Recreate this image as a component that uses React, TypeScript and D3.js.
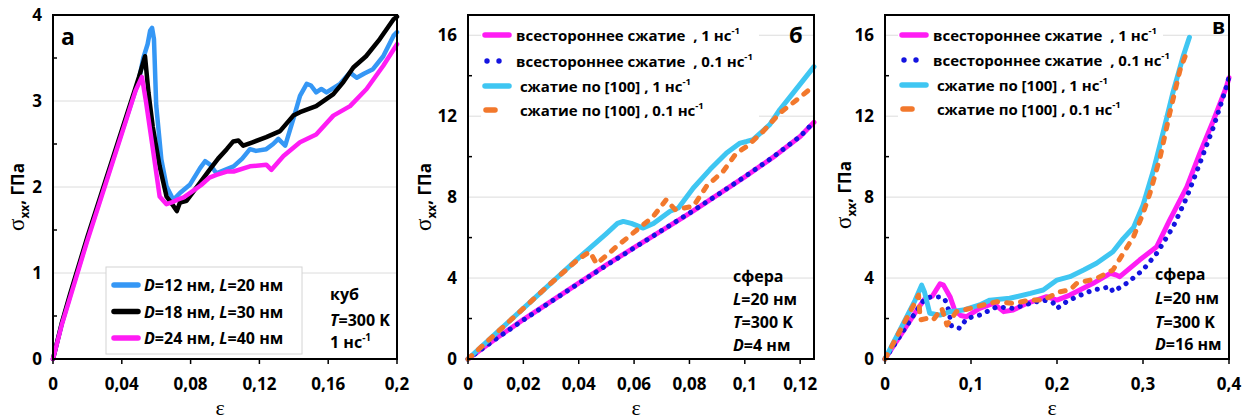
import React from 'react';
import * as d3 from 'd3';

type Pt = [number, number];

// ---------- Panel а: cube, T = 300 K, 1 нс⁻¹ ----------
const cubeD12: Pt[] = [
  [0, 0], [0.005, 0.4], [0.01, 0.74], [0.02, 1.4], [0.03, 2.02], [0.04, 2.64], [0.05, 3.25],
  [0.0525, 3.5], [0.055, 3.66], [0.0565, 3.82], [0.0576, 3.85], [0.0587, 3.72], [0.06, 2.95],
  [0.063, 2.32], [0.066, 2.01], [0.07, 1.85], [0.0738, 1.93], [0.0797, 2.03], [0.0855, 2.22],
  [0.0884, 2.3], [0.0913, 2.26], [0.095, 2.16], [0.1, 2.2], [0.105, 2.24], [0.11, 2.33],
  [0.1145, 2.44], [0.118, 2.42], [0.124, 2.44], [0.128, 2.5], [0.131, 2.56], [0.135, 2.48],
  [0.1397, 2.79], [0.1436, 3.06], [0.1475, 3.2], [0.15, 3.18], [0.153, 3.1], [0.156, 3.14],
  [0.159, 3.1], [0.1669, 3.2], [0.1727, 3.33], [0.1766, 3.27], [0.181, 3.32], [0.186, 3.37],
  [0.192, 3.52], [0.198, 3.76], [0.2, 3.8],
];
const cubeD18: Pt[] = [
  [0, 0], [0.005, 0.41], [0.01, 0.76], [0.02, 1.42], [0.03, 2.04], [0.04, 2.66], [0.05, 3.28],
  [0.0535, 3.52], [0.0555, 3.1], [0.058, 2.7], [0.062, 2.24], [0.066, 1.89], [0.07, 1.78],
  [0.072, 1.72], [0.0738, 1.82], [0.0777, 1.84], [0.0855, 2.05], [0.091, 2.2], [0.096, 2.33],
  [0.101, 2.44], [0.1048, 2.53], [0.1078, 2.54], [0.1106, 2.48], [0.116, 2.52], [0.124, 2.58],
  [0.132, 2.65], [0.1397, 2.83], [0.1436, 2.87], [0.153, 2.94], [0.163, 3.08], [0.1688, 3.22],
  [0.1746, 3.39], [0.182, 3.52], [0.19, 3.72], [0.198, 3.95], [0.2, 3.98],
];
const cubeD24: Pt[] = [
  [0, 0], [0.005, 0.39], [0.01, 0.72], [0.02, 1.38], [0.03, 2.0], [0.04, 2.62], [0.048, 3.12],
  [0.0517, 3.28], [0.054, 3.0], [0.058, 2.45], [0.062, 1.89], [0.066, 1.8], [0.069, 1.82],
  [0.072, 1.85], [0.076, 1.88], [0.081, 1.95], [0.086, 2.02], [0.091, 2.11], [0.095, 2.14],
  [0.101, 2.18], [0.105, 2.18], [0.1145, 2.24], [0.124, 2.26], [0.127, 2.2], [0.134, 2.36],
  [0.1436, 2.52], [0.153, 2.61], [0.163, 2.83], [0.1727, 2.94], [0.1823, 3.14], [0.192, 3.41],
  [0.2, 3.66],
];
const cubeXTicks = [0, 0.04, 0.08, 0.12, 0.16, 0.2];
const cubeXLabels = ['0', '0,04', '0,08', '0,12', '0,16', '0,2'];
const cubeYTicks = [0, 1, 2, 3, 4];
const cubeYMinor = [0.5, 1.5, 2.5, 3.5];

// ---------- Panel б: sphere, D = 4 нм ----------
const sph4IsoFast: Pt[] = [
  [0, 0], [0.01, 1.0], [0.02, 1.95], [0.03, 2.85], [0.04, 3.75], [0.05, 4.65], [0.06, 5.5],
  [0.07, 6.35], [0.08, 7.2], [0.09, 8.1], [0.1, 9.0], [0.11, 9.95], [0.12, 11.0], [0.125, 11.7],
];
const sph4IsoSlow: Pt[] = [
  [0, 0], [0.01, 0.98], [0.02, 1.93], [0.03, 2.84], [0.04, 3.74], [0.05, 4.63], [0.06, 5.49],
  [0.07, 6.35], [0.08, 7.21], [0.09, 8.1], [0.1, 9.01], [0.11, 9.96], [0.12, 11.0], [0.125, 11.72],
];
const sph4UniFast: Pt[] = [
  [0, 0], [0.01, 1.25], [0.02, 2.5], [0.03, 3.75], [0.04, 5.0], [0.05, 6.2], [0.054, 6.7],
  [0.0561, 6.8], [0.059, 6.7], [0.0633, 6.47], [0.067, 6.7], [0.073, 7.3], [0.076, 7.46],
  [0.0814, 8.45], [0.0874, 9.36], [0.0934, 10.18], [0.0983, 10.67], [0.1007, 10.75],
  [0.103, 10.84], [0.109, 11.58], [0.1127, 12.33], [0.1175, 13.15], [0.125, 14.45],
];
const sph4UniSlow: Pt[] = [
  [0, 0], [0.01, 1.25], [0.02, 2.5], [0.03, 3.75], [0.04, 4.95], [0.044, 5.3], [0.0465, 4.7],
  [0.0537, 5.56], [0.0597, 6.23], [0.0669, 7.04], [0.0716, 7.87], [0.0748, 7.38], [0.0814, 7.55],
  [0.0862, 8.54], [0.0922, 9.28], [0.097, 10.18], [0.1007, 10.5], [0.1067, 11.26],
  [0.1127, 12.16], [0.1187, 12.8], [0.125, 13.5],
];
const sph4XTicks = [0, 0.02, 0.04, 0.06, 0.08, 0.1, 0.12];
const sph4XLabels = ['0', '0,02', '0,04', '0,06', '0,08', '0,1', '0,12'];

// ---------- Panel в: sphere, D = 16 нм ----------
const sph16IsoFast: Pt[] = [
  [0, 0], [0.02, 1.3], [0.04, 2.6], [0.046, 2.95], [0.055, 3.1], [0.06, 3.45], [0.064, 3.72],
  [0.068, 3.65], [0.0756, 3.08], [0.081, 2.42], [0.088, 2.15], [0.095, 2.09], [0.11, 2.5],
  [0.126, 2.75], [0.138, 2.34], [0.149, 2.42], [0.165, 2.75], [0.188, 3.08], [0.2, 2.91],
  [0.215, 3.16], [0.242, 3.74], [0.262, 4.23], [0.269, 4.15], [0.273, 4.07], [0.296, 4.89],
  [0.316, 5.55], [0.331, 6.86], [0.351, 8.51], [0.366, 10.16], [0.382, 11.8], [0.397, 13.45],
  [0.4, 13.9],
];
const sph16IsoSlow: Pt[] = [
  [0, 0], [0.02, 1.3], [0.04, 2.6], [0.046, 2.95], [0.05, 3.05], [0.066, 3.07], [0.07, 2.9],
  [0.074, 2.42], [0.0775, 1.6], [0.087, 1.52], [0.095, 2.0], [0.11, 2.17], [0.13, 2.58],
  [0.149, 2.5], [0.169, 2.75], [0.184, 2.91], [0.195, 2.8], [0.2, 2.5], [0.211, 2.83],
  [0.223, 3.08], [0.242, 3.41], [0.262, 3.57], [0.265, 3.32], [0.281, 3.74], [0.3, 4.4],
  [0.316, 5.22], [0.335, 6.53], [0.351, 8.0], [0.366, 9.66], [0.382, 11.47], [0.397, 13.45],
  [0.4, 13.94],
];
const sph16UniFast: Pt[] = [
  [0, 0], [0.02, 1.65], [0.035, 2.9], [0.0426, 3.65], [0.046, 3.3], [0.052, 2.26], [0.064, 2.17],
  [0.0756, 2.34], [0.091, 2.42], [0.11, 2.67], [0.122, 2.91], [0.145, 3.0], [0.169, 3.24],
  [0.184, 3.41], [0.2, 3.9], [0.215, 4.07], [0.231, 4.4], [0.246, 4.73], [0.265, 5.3],
  [0.277, 5.95], [0.289, 6.5], [0.3, 7.6], [0.312, 9.3], [0.324, 11.3], [0.335, 13.2],
  [0.347, 15.0], [0.354, 15.9],
];
const sph16UniSlow: Pt[] = [
  [0, 0], [0.02, 1.6], [0.035, 2.8], [0.039, 3.16], [0.041, 1.93], [0.048, 2.0], [0.056, 1.93],
  [0.066, 2.5], [0.072, 1.68], [0.083, 2.34], [0.099, 2.5], [0.114, 2.67], [0.13, 2.83],
  [0.149, 2.75], [0.169, 2.91], [0.184, 2.91], [0.203, 3.32], [0.215, 3.41], [0.223, 3.74],
  [0.246, 3.98], [0.265, 4.4], [0.277, 5.22], [0.289, 6.04], [0.3, 7.19], [0.308, 8.18],
  [0.32, 9.99], [0.331, 12.13], [0.343, 14.27], [0.352, 15.3],
];
const sph16XTicks = [0, 0.1, 0.2, 0.3, 0.4];
const sph16XLabels = ['0', '0,1', '0,2', '0,3', '0,4'];

const sphYTicks = [0, 4, 8, 12, 16];
const sphYMinor = [2, 6, 10, 14];

// ---------- styles ----------
const SANS = "'Open Sans', 'DejaVu Sans', sans-serif";
const SERIF = "'Liberation Serif', 'DejaVu Serif', serif";

const C_BLUE = '#3597f5';
const C_BLACK = '#000000';
const C_MAGENTA = '#ff1cf4';
const C_DOTS = '#1414e0';
const C_CYAN = '#3fc6f2';
const C_ORANGE = '#f2782c';

type Kind = 'solid' | 'dots' | 'dash';
interface Series { data: Pt[]; color: string; kind: Kind; width: number }
interface LegendItem { kind: Kind; color: string; label: string }

function dashFor(kind: Kind) {
  if (kind === 'dots') return '0.1 8.5';
  if (kind === 'dash') return '5 9';
  return undefined;
}

function Rich({ text, x, y, size }: { text: string; x: number; y: number; size: number }) {
  // Variable letters (D, L, T) before "=" are set in italic.
  const parts = text.split(/(\b[DLT](?==))/);
  return (
    <text x={x} y={y} fontFamily={SANS} fontWeight={700} fontSize={size} style={{ whiteSpace: 'pre' }}>
      {parts.map((p, i) =>
        /^[DLT]$/.test(p) ? <tspan key={i} fontStyle="italic">{p}</tspan> : <tspan key={i}>{p}</tspan>
      )}
    </text>
  );
}

interface PanelCfg {
  left: number; right: number; top: number; bottom: number;
  xDomain: [number, number]; yDomain: [number, number];
  xTicks: number[]; xLabels: string[];
  yTicks: number[]; yMinor: number[]; gridTicks: number[];
  series: Series[];
  yLabelX: number; yLabelY: number;
  tag: string; tagX: number; tagY: number; tagSize: number;
  notes: string[]; notesX: number; notesY: number[];
}

function Panel({ c }: { c: PanelCfg }) {
  const x = d3.scaleLinear().domain(c.xDomain).range([c.left, c.right]);
  const y = d3.scaleLinear().domain(c.yDomain).range([c.bottom, c.top]);
  const line = d3.line<Pt>().x(d => x(d[0])).y(d => y(d[1]));
  return (
    <g>
      {c.gridTicks.map(t => (
        <line key={'g' + t} x1={c.left} x2={c.right} y1={y(t)} y2={y(t)} stroke="#dcdcdc" strokeWidth={1} />
      ))}
      {c.series.map((s, i) => (
        <path key={i} d={line(s.data) || ''} fill="none" stroke={s.color} strokeWidth={s.width}
          strokeDasharray={dashFor(s.kind)} strokeLinecap="round" strokeLinejoin="round" />
      ))}
      <rect x={c.left} y={c.top} width={c.right - c.left} height={c.bottom - c.top}
        fill="none" stroke="#000" strokeWidth={2} />
      {c.yMinor.map(t => (
        <line key={'m' + t} x1={c.left} x2={c.left + 4} y1={y(t)} y2={y(t)} stroke="#000" strokeWidth={1.5} />
      ))}
      {c.xTicks.map(t => (
        <line key={'xt' + t} x1={x(t)} x2={x(t)} y1={c.bottom} y2={c.bottom + 5} stroke="#000" strokeWidth={1.5} />
      ))}
      {c.xTicks.map((t, i) => (
        <text key={'xl' + t} x={x(t)} y={390} textAnchor="middle" fontFamily={SANS} fontWeight={700} fontSize={17}>
          {c.xLabels[i]}
        </text>
      ))}
      {c.yTicks.map(t => (
        <text key={'yl' + t} x={c.left - 11} y={y(t) + 6} textAnchor="end" fontFamily={SANS} fontWeight={700} fontSize={17}>
          {String(t)}
        </text>
      ))}
      <text x={(c.left + c.right) / 2 - 5} y={415} textAnchor="middle" fontFamily={SERIF} fontSize={22}>ε</text>
      <text transform={`translate(${c.yLabelX},${c.yLabelY}) rotate(-90)`} textAnchor="middle">
        <tspan fontFamily={SERIF} fontSize={23}>σ</tspan>
        <tspan fontFamily={SANS} fontSize={12} fontWeight={700} dy={5}>xx</tspan>
        <tspan fontFamily={SANS} fontSize={17} fontWeight={700} dy={-5}>, ГПа</tspan>
      </text>
      <text x={c.tagX} y={c.tagY} fontFamily={SANS} fontWeight={700} fontSize={c.tagSize}>{c.tag}</text>
      {c.notes.map((n, i) => {
        if (n.endsWith('нс')) {
          return (
            <text key={'n' + i} x={c.notesX} y={c.notesY[i]} fontFamily={SANS} fontWeight={700} fontSize={16}>
              {n}<tspan fontSize={10} dy={-7}>-1</tspan>
            </text>
          );
        }
        return <Rich key={'n' + i} text={n} x={c.notesX} y={c.notesY[i]} size={16} />;
      })}
    </g>
  );
}

function LegendSwatch({ kind, color, x, y }: { kind: Kind; color: string; x: number; y: number }) {
  if (kind === 'dots') {
    return (
      <g>
        <circle cx={x + 2} cy={y} r={2.7} fill={color} />
        <circle cx={x + 14} cy={y} r={2.7} fill={color} />
      </g>
    );
  }
  if (kind === 'dash') {
    return <line x1={x + 1} x2={x + 10} y1={y} y2={y} stroke={color} strokeWidth={5.5} strokeLinecap="round" />;
  }
  return <line x1={x} x2={x + 24} y1={y} y2={y} stroke={color} strokeWidth={5.5} strokeLinecap="round" />;
}

const cubeLegend: LegendItem[] = [
  { kind: 'solid', color: C_BLUE, label: 'D=12 нм, L=20 нм' },
  { kind: 'solid', color: C_BLACK, label: 'D=18 нм, L=30 нм' },
  { kind: 'solid', color: C_MAGENTA, label: 'D=24 нм, L=40 нм' },
];
const sphLegend: LegendItem[] = [
  { kind: 'solid', color: C_MAGENTA, label: 'всестороннее сжатие  , 1 нс' },
  { kind: 'dots', color: C_DOTS, label: 'всестороннее сжатие  , 0.1 нс' },
  { kind: 'solid', color: C_CYAN, label: ' сжатие по [100] , 1 нс' },
  { kind: 'dash', color: C_ORANGE, label: ' сжатие по [100] , 0.1 нс' },
];

function SphereLegend({ x0, textX, rows, boxW }: { x0: number; textX: number; rows: number[]; boxW: number }) {
  return (
    <g>
      <rect x={x0 - 4} y={rows[0] - 12} width={boxW} height={rows[3] - rows[0] + 22} fill="#fff" />
      {sphLegend.map((it, i) => (
        <g key={i}>
          <LegendSwatch kind={it.kind} color={it.color} x={x0} y={rows[i]} />
          <text x={textX} y={rows[i] + 5.5} fontFamily={SANS} fontWeight={700} fontSize={15} style={{ whiteSpace: 'pre' }}>
            {it.label}<tspan fontSize={9.5} dy={-7}>-1</tspan>
          </text>
        </g>
      ))}
    </g>
  );
}

export default function App() {
  const panelA: PanelCfg = {
    left: 53, right: 397, top: 15, bottom: 359,
    xDomain: [0, 0.2], yDomain: [0, 4],
    xTicks: cubeXTicks, xLabels: cubeXLabels,
    yTicks: cubeYTicks, yMinor: cubeYMinor, gridTicks: [1, 2, 3],
    series: [
      { data: cubeD12, color: C_BLUE, kind: 'solid', width: 4.5 },
      { data: cubeD18, color: C_BLACK, kind: 'solid', width: 4.5 },
      { data: cubeD24, color: C_MAGENTA, kind: 'solid', width: 4.5 },
    ],
    yLabelX: 24, yLabelY: 197,
    tag: 'а', tagX: 61, tagY: 45, tagSize: 23,
    notes: ['куб', 'T=300 K', '1 нс'], notesX: 330, notesY: [300, 326, 348],
  };
  const panelB: PanelCfg = {
    left: 468, right: 814, top: 15, bottom: 359,
    xDomain: [0, 0.125], yDomain: [0, 17],
    xTicks: sph4XTicks, xLabels: sph4XLabels,
    yTicks: sphYTicks, yMinor: sphYMinor, gridTicks: [4, 8, 12, 16],
    series: [
      { data: sph4IsoFast, color: C_MAGENTA, kind: 'solid', width: 5 },
      { data: sph4IsoSlow, color: C_DOTS, kind: 'dots', width: 5 },
      { data: sph4UniFast, color: C_CYAN, kind: 'solid', width: 5 },
      { data: sph4UniSlow, color: C_ORANGE, kind: 'dash', width: 5 },
    ],
    yLabelX: 431, yLabelY: 197,
    tag: 'б', tagX: 789, tagY: 43, tagSize: 22,
    notes: ['сфера', 'L=20 нм', 'T=300 K', 'D=4 нм'], notesX: 733, notesY: [282, 305, 328, 351],
  };
  const panelC: PanelCfg = {
    left: 885, right: 1229, top: 15, bottom: 359,
    xDomain: [0, 0.4], yDomain: [0, 17],
    xTicks: sph16XTicks, xLabels: sph16XLabels,
    yTicks: sphYTicks, yMinor: sphYMinor, gridTicks: [4, 8, 12, 16],
    series: [
      { data: sph16IsoFast, color: C_MAGENTA, kind: 'solid', width: 5 },
      { data: sph16IsoSlow, color: C_DOTS, kind: 'dots', width: 5 },
      { data: sph16UniFast, color: C_CYAN, kind: 'solid', width: 5 },
      { data: sph16UniSlow, color: C_ORANGE, kind: 'dash', width: 5 },
    ],
    yLabelX: 851, yLabelY: 195,
    tag: 'в', tagX: 1212, tagY: 34, tagSize: 21,
    notes: ['сфера', 'L=20 нм', 'T=300 K', 'D=16 нм'], notesX: 1155, notesY: [280, 304, 328, 350],
  };

  return (
    <svg width={1249} height={419} viewBox="0 0 1249 419"
      style={{ position: 'absolute', left: 0, top: 0, background: '#fff' }}>
      <rect x={0} y={0} width={1249} height={419} fill="#fff" />
      <Panel c={panelA} />
      <Panel c={panelB} />
      <Panel c={panelC} />

      {/* legend of panel а */}
      <rect x={106} y={267} width={196} height={87} fill="#fff" stroke="#d4d4d4" strokeWidth={1} />
      {cubeLegend.map((it, i) => (
        <g key={i}>
          <LegendSwatch kind={it.kind} color={it.color} x={114} y={285 + i * 26.5} />
          <Rich text={it.label} x={144} y={291 + i * 26.5} size={16} />
        </g>
      ))}

      <SphereLegend x0={485} textX={516} rows={[35, 61, 86, 110]} boxW={278} />
      <SphereLegend x0={902} textX={933} rows={[35, 60, 85, 109]} boxW={265} />
    </svg>
  );
}
